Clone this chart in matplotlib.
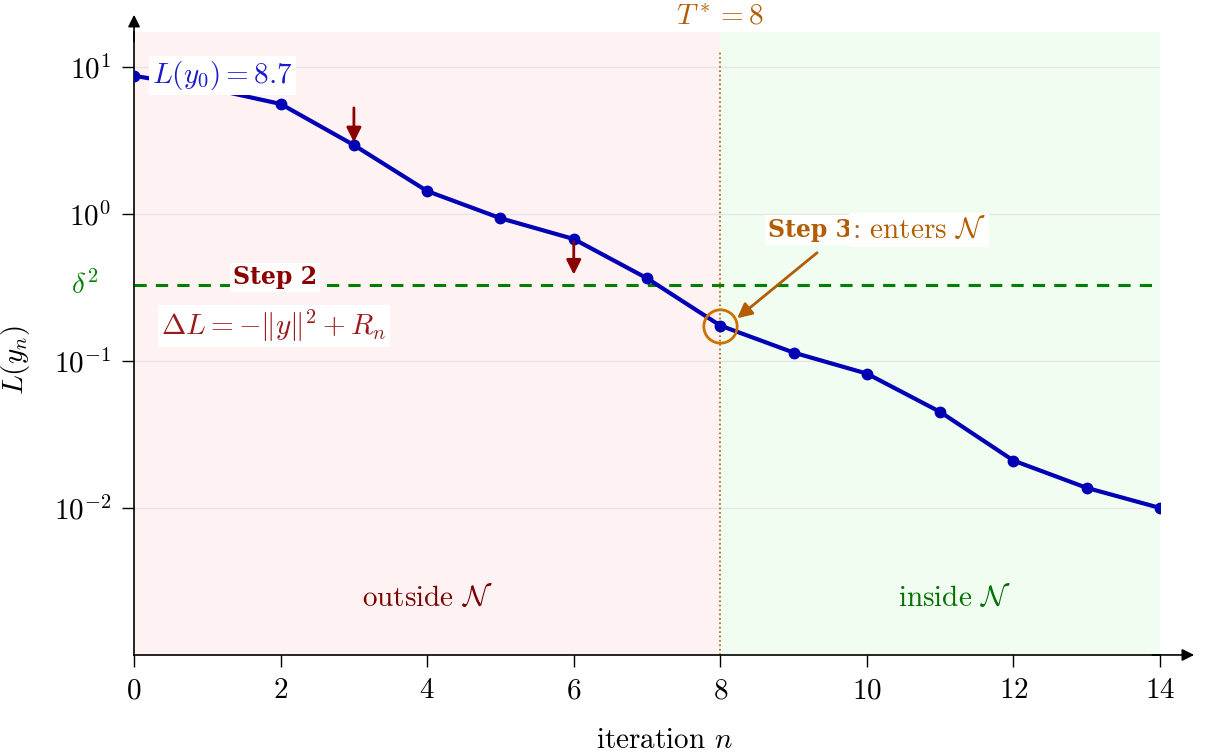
import numpy as np
import matplotlib
matplotlib.use("Agg")
import matplotlib.pyplot as plt
from matplotlib.transforms import blended_transform_factory

plt.rcParams['font.family'] = 'serif'
plt.rcParams['font.serif'] = ['cmr10']
plt.rcParams['mathtext.fontset'] = 'cm'
plt.rcParams['axes.formatter.use_mathtext'] = True
plt.rcParams['axes.unicode_minus'] = False

# data
iters = np.arange(0, 15)
loss = [8.7, 7.2, 5.6, 2.94, 1.43, 0.935, 0.675, 0.365, 0.174, 0.114, 0.082, 0.045, 0.021, 0.0137, 0.010]
delta2 = 0.327
t_star = 8
n_max = 14
xticks = [0, 2, 4, 6, 8, 10, 12, 14]
yticks = [1e-2, 1e-1, 1e0, 1e1]

blue = '#0000b4'
dred = '#8b0000'
orange = '#b35c00'
green = '#008000'
fs = 21
bold = dict(family='DejaVu Serif', weight='bold', size=17)

fig = plt.figure(figsize=(12.11, 7.55), dpi=100)
ax = fig.add_axes([0.1107, 0.1325, 0.8472, 0.8252])
ax.set_yscale('log')
ax.set_xlim(0, n_max)
ax.set_ylim(1e-3, 17.3)

ax.axvspan(0, t_star, color='#fff2f2', zorder=0, lw=0)
ax.axvspan(t_star, n_max, color='#f0fdf0', zorder=0, lw=0)
for t in yticks:
    ax.axhline(t, color='#e6e6e6', lw=1, zorder=1)

ax.axhline(delta2, color=green, ls=(0, (4, 3)), lw=2.2, zorder=2)
ax.plot([t_star, t_star], [1e-3, 12.6], color=orange, ls=':', lw=1.2, zorder=2)

ax.plot(iters, loss, color=blue, lw=3, marker='o', ms=7.5, zorder=4)
ax.plot([t_star], [loss[t_star]], marker='o', ms=24, mfc='none', mec='#cc7000', mew=2, zorder=5)

# descent arrows
ax.annotate('', xy=(3, loss[3]), xytext=(3, 5.5),
            arrowprops=dict(arrowstyle='-|>', color=dred, lw=2, mutation_scale=22), zorder=5)
ax.annotate('', xy=(6, 0.37), xytext=(6, loss[6]),
            arrowprops=dict(arrowstyle='-|>', color=dred, lw=2, mutation_scale=22), zorder=5)

box = dict(facecolor='white', edgecolor='none', pad=2)
ax.text(0.25, loss[0], r'$L(y_0)=8.7$', color='#1a1acc', fontsize=fs, ha='left', va='center',
        bbox=box, zorder=6)
ax.text(1.92, 0.37, 'Step 2', color=dred, ha='center', va='center',
        bbox=box, zorder=6, **bold)
ax.text(1.91, 0.174, r'$\Delta L=-\Vert y\Vert^2+R_n$', color='#991a1a', fontsize=fs,
        ha='center', va='center', bbox=box, zorder=6)
s3 = ax.text(8.65, 0.774, 'Step 3', color=orange, ha='left', va='center',
             bbox=box, zorder=6, **bold)
ax.annotate(r': enters $\mathcal{N}$', xy=(1, 0.5), xycoords=s3, xytext=(0, 0),
            textcoords='offset points', color=orange, fontsize=fs, ha='left', va='center',
            bbox=box, zorder=6)
ax.annotate('', xy=(8.2, 0.19), xytext=(9.35, 0.56),
            arrowprops=dict(arrowstyle='-|>', color=orange, lw=2, mutation_scale=22), zorder=6)

ax.text(4.0, 0.00244, r'outside $\mathcal{N}$', color='#7a0000', fontsize=fs, ha='center', va='center')
ax.text(11.2, 0.00244, r'inside $\mathcal{N}$', color='#007000', fontsize=fs, ha='center', va='center')

trans = blended_transform_factory(ax.transAxes, ax.transData)
ax.text(-0.035, delta2, r'$\delta^2$', color=green, fontsize=fs, ha='right', va='center',
        transform=trans)
trans2 = blended_transform_factory(ax.transData, ax.transAxes)
ax.text(t_star, 1.024, r'$T^*=8$', color=orange, fontsize=fs, ha='center', va='center',
        transform=trans2)

ax.set_xticks(xticks)
ax.set_yticks(yticks)
ax.minorticks_off()
ax.tick_params(axis='both', direction='out', length=8.5, width=1, labelsize=fs, pad=8)
for s in ['top', 'right']:
    ax.spines[s].set_visible(False)
for s in ['left', 'bottom']:
    ax.spines[s].set_linewidth(1.2)

ax.annotate('', xy=(0, 1.032), xytext=(0, 0.98), xycoords='axes fraction',
            arrowprops=dict(arrowstyle='-|>', color='black', lw=1.2, mutation_scale=18), annotation_clip=False)
ax.annotate('', xy=(1.036, 0), xytext=(0.99, 0), xycoords='axes fraction',
            arrowprops=dict(arrowstyle='-|>', color='black', lw=1.2, mutation_scale=18), annotation_clip=False)

ax.set_xlabel(r'iteration $n$', fontsize=fs)
ax.xaxis.set_label_coords(0.517, -0.117)
ax.set_ylabel(r'$L(y_n)$', fontsize=fs)
ax.yaxis.set_label_coords(-0.099, 0.473)

fig.savefig('out.png', dpi=100)
